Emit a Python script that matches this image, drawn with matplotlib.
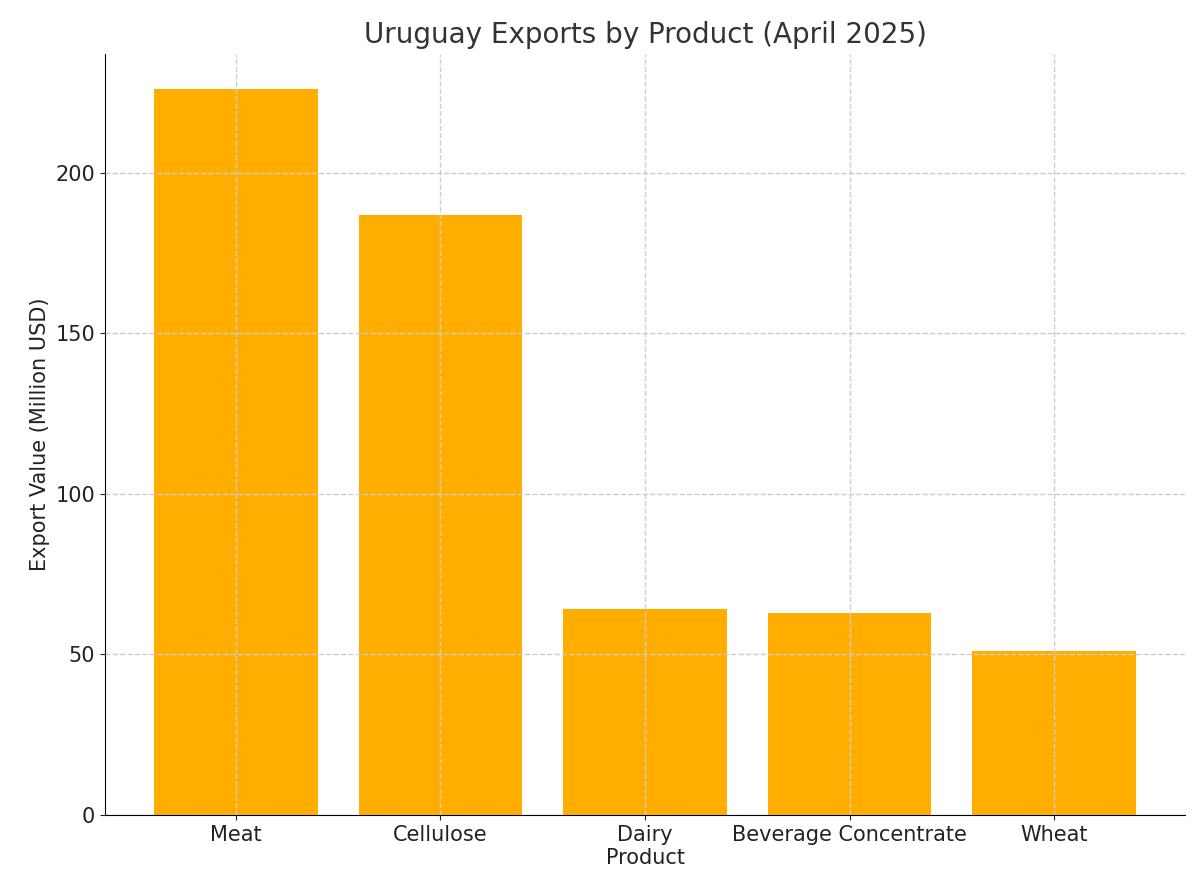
import matplotlib
matplotlib.use("Agg")
import matplotlib.pyplot as plt

categories = ["Meat", "Cellulose", "Dairy", "Beverage Concentrate", "Wheat"]
values = [226, 187, 64, 63, 51]

fig = plt.figure(figsize=(12, 8.96), dpi=100)
ax = fig.add_axes([105/1200, 1-815/896, (1185-105)/1200, (815-54)/896])
ax.bar(categories, values, color="#FFAE00", width=0.8, zorder=1)
ax.set_axisbelow(False)
ax.grid(True, linestyle="--", color="#cccccc", linewidth=1, zorder=2)
ax.set_ylim(0, 237)
ax.set_yticks([0, 50, 100, 150, 200])
ax.spines["top"].set_visible(False)
ax.spines["right"].set_visible(False)
ax.tick_params(labelsize=15, colors="#222222")
ax.set_title("Uruguay Exports by Product (April 2025)", fontsize=20, color="#333333", pad=8)
ax.set_xlabel("Product", fontsize=15, color="#222222", labelpad=2)
ax.set_ylabel("Export Value (Million USD)", fontsize=15, color="#222222")
fig.savefig("out.png", dpi=100)
